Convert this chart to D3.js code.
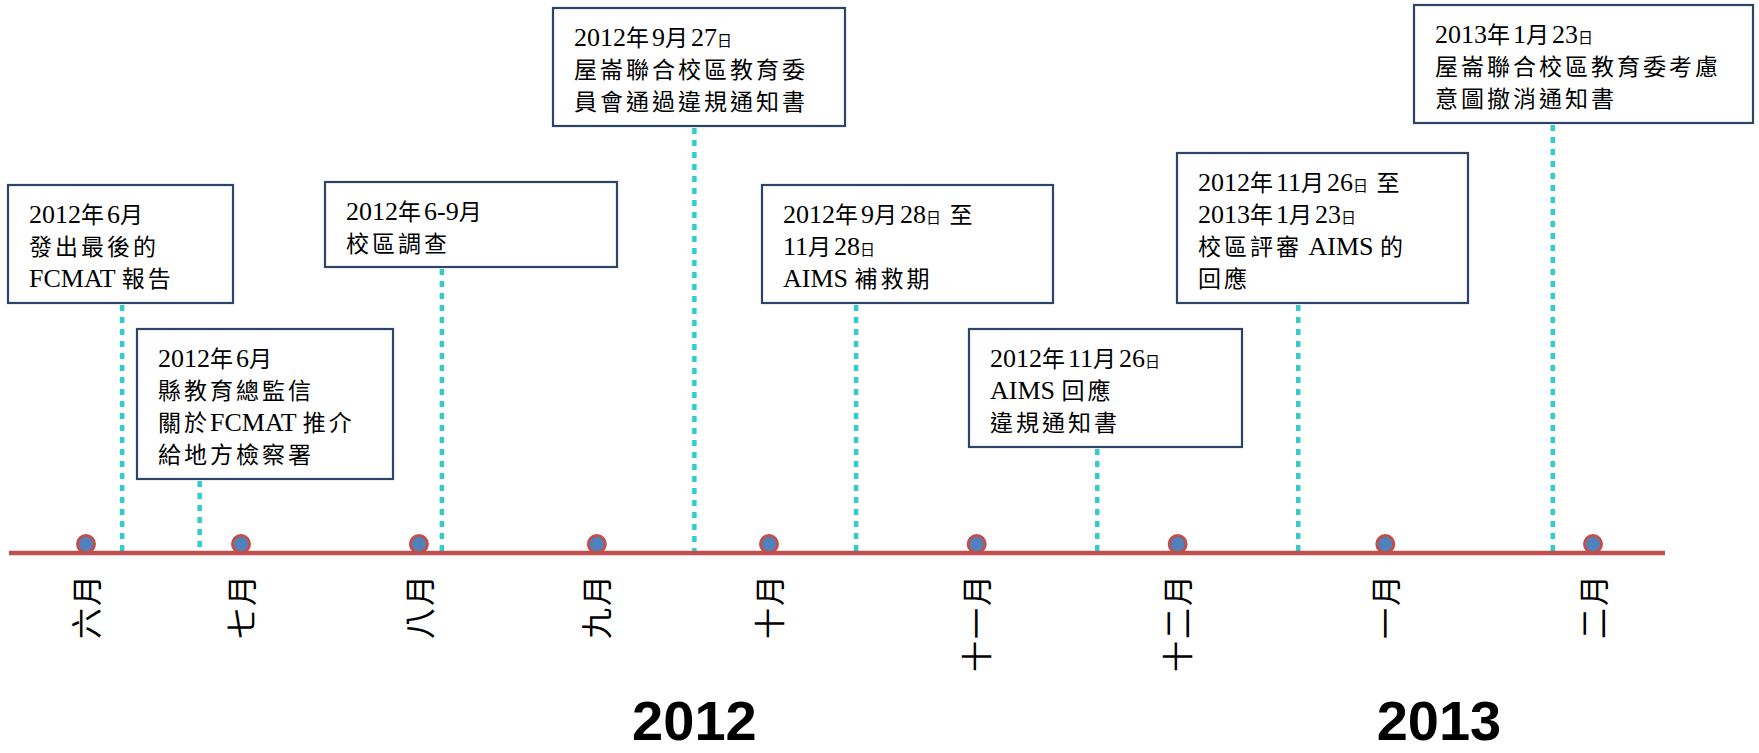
<!DOCTYPE html>
<html>
<head>
<meta charset="utf-8">
<script src="https://cdn.jsdelivr.net/npm/d3@7"></script>
<style>
  body { margin: 0; background: #fff; }
  svg { display: block; }
  .lat { font-family: "Liberation Serif", "DejaVu Serif", serif; font-size: 26px; }
  .han { font-family: "Noto Sans CJK TC", "Noto Sans CJK SC", sans-serif; font-size: 23px; letter-spacing: 3px; }
  .han.small { font-size: 15px; letter-spacing: 2px; }
</style>
</head>
<body>
<script>
// data
const monthDates = ["2012-06-01", "2012-07-01", "2012-08-01", "2012-09-01", "2012-10-01",
                    "2012-11-01", "2012-12-01", "2013-01-01", "2013-02-01"];
const monthLabels = ["六月", "七月", "八月", "九月", "十月", "十一月", "十二月", "一月", "二月"];

const yearLabels = ["2012", "2013"];
const yearDates = ["2012-09-18", "2013-01-09"];

// where each stem meets the timeline (as drawn, not the real event date)
const eventDates = ["2012-06-08", "2012-06-23", "2012-08-05", "2012-09-18",
                    "2012-10-14", "2012-11-19", "2012-12-19", "2013-01-26"];
const eventTexts = [
  ["2012年6月", "發出最後的", "FCMAT 報告"],
  ["2012年6月", "縣教育總監信", "關於FCMAT 推介", "給地方檢察署"],
  ["2012年6-9月", "校區調查"],
  ["2012年9月27日", "屋崙聯合校區教育委", "員會通過違規通知書"],
  ["2012年9月28日 至", "11月28日", "AIMS 補救期"],
  ["2012年11月26日", "AIMS 回應", "違規通知書"],
  ["2012年11月26日 至", "2013年1月23日", "校區評審 AIMS 的", "回應"],
  ["2013年1月23日", "屋崙聯合校區教育委考慮", "意圖撤消通知書"]
];

// layout of the boxes (x, y, w, h), kept apart from the data
const boxLayout = [
  [8, 185, 225, 118],
  [137, 329, 256, 150],
  [325, 182, 292, 85],
  [553, 8, 292, 118],
  [762, 185, 291, 118],
  [969, 329, 273, 118],
  [1177, 153, 291, 150],
  [1414, 5, 339, 118]
];

const w = 1759;
const h = 753;
const axisY = 553;
const parse = d3.timeParse("%Y-%m-%d");

// the months are not evenly spaced in the original, so a piecewise time scale
const x = d3.scaleTime()
  .domain([parse("2012-06-01"), parse("2012-07-01"), parse("2012-10-01"), parse("2013-02-01")])
  .range([86, 241, 769, 1593]);

const svg = d3.select("body").append("svg")
  .attr("width", w)
  .attr("height", h);

// stems first so the boxes sit over them
svg.selectAll("line.stem")
  .data(eventDates)
  .enter()
  .append("line")
  .attr("class", "stem")
  .attr("x1", d => x(parse(d)))
  .attr("x2", d => x(parse(d)))
  .attr("y1", (d, i) => boxLayout[i][1] + boxLayout[i][3] + 2)
  .attr("y2", axisY)
  .attr("stroke", "#33CCCC")
  .attr("stroke-width", 4.5)
  .attr("stroke-dasharray", "6,6");

// the red timeline
svg.append("line")
  .attr("x1", 9)
  .attr("x2", 1665)
  .attr("y1", axisY)
  .attr("y2", axisY)
  .attr("stroke", "#C0504D")
  .attr("stroke-width", 4.5);

// month dots
svg.selectAll("circle")
  .data(monthDates)
  .enter()
  .append("circle")
  .attr("cx", d => x(parse(d)))
  .attr("cy", axisY - 9)
  .attr("r", 8.5)
  .attr("fill", "#4F81BD")
  .attr("stroke", "#C0504D")
  .attr("stroke-width", 3);

// month labels with the axis, turned on their side
const xAxis = d3.axisBottom(x)
  .tickValues(monthDates.map(parse))
  .tickFormat((d, i) => monthLabels[i])
  .tickSize(0);

const gx = svg.append("g")
  .attr("transform", "translate(0," + axisY + ")")
  .call(xAxis);
gx.select(".domain").remove();
gx.selectAll("text")
  .attr("transform", "rotate(-90)")
  .attr("x", -20)
  .attr("y", 0)
  .attr("dy", "0.36em")
  .attr("text-anchor", "end")
  .attr("fill", "#000")
  .style("font-family", "'Noto Sans CJK TC', 'Noto Sans CJK SC', sans-serif")
  .style("font-size", "31px")
  .style("letter-spacing", "2px");

// big year labels (kept just inside the bottom edge)
svg.selectAll("text.year")
  .data(yearLabels)
  .enter()
  .append("text")
  .attr("class", "year")
  .attr("x", (d, i) => x(parse(yearDates[i])))
  .attr("y", 740)
  .attr("text-anchor", "middle")
  .style("font-family", "'Liberation Sans', Arial, sans-serif")
  .style("font-weight", "bold")
  .style("font-size", "56px")
  .text(d => d);

// boxes
const boxes = svg.selectAll("g.box")
  .data(eventTexts)
  .enter()
  .append("g")
  .attr("class", "box")
  .attr("transform", (d, i) => "translate(" + boxLayout[i][0] + "," + boxLayout[i][1] + ")");

boxes.append("rect")
  .attr("width", (d, i) => boxLayout[i][2])
  .attr("height", (d, i) => boxLayout[i][3])
  .attr("fill", "#fff")
  .attr("stroke", "#2B4468")
  .attr("stroke-width", 2.2);

// latin in a serif, chinese in the cjk face, 日 a bit smaller like the original
const runs = /[\u3400-\u9fff]+|[^\u3400-\u9fff]+/g;
boxes.each(function (lines) {
  const g = d3.select(this);
  lines.forEach((line, li) => {
    const t = g.append("text")
      .attr("x", 21)
      .attr("y", 38 + li * 32)
      .attr("fill", "#000")
      .attr("class", "lat")
      .attr("xml:space", "preserve");
    line.match(runs).forEach(run => {
      if (/[\u3400-\u9fff]/.test(run)) {
        run.split("").forEach(ch => {
          t.append("tspan")
            .attr("class", ch === "日" ? "han small" : "han")
            .text(ch);
        });
      } else {
        t.append("tspan")
          .attr("class", "lat")
          .text(run);
      }
    });
  });
});
</script>
</body>
</html>
